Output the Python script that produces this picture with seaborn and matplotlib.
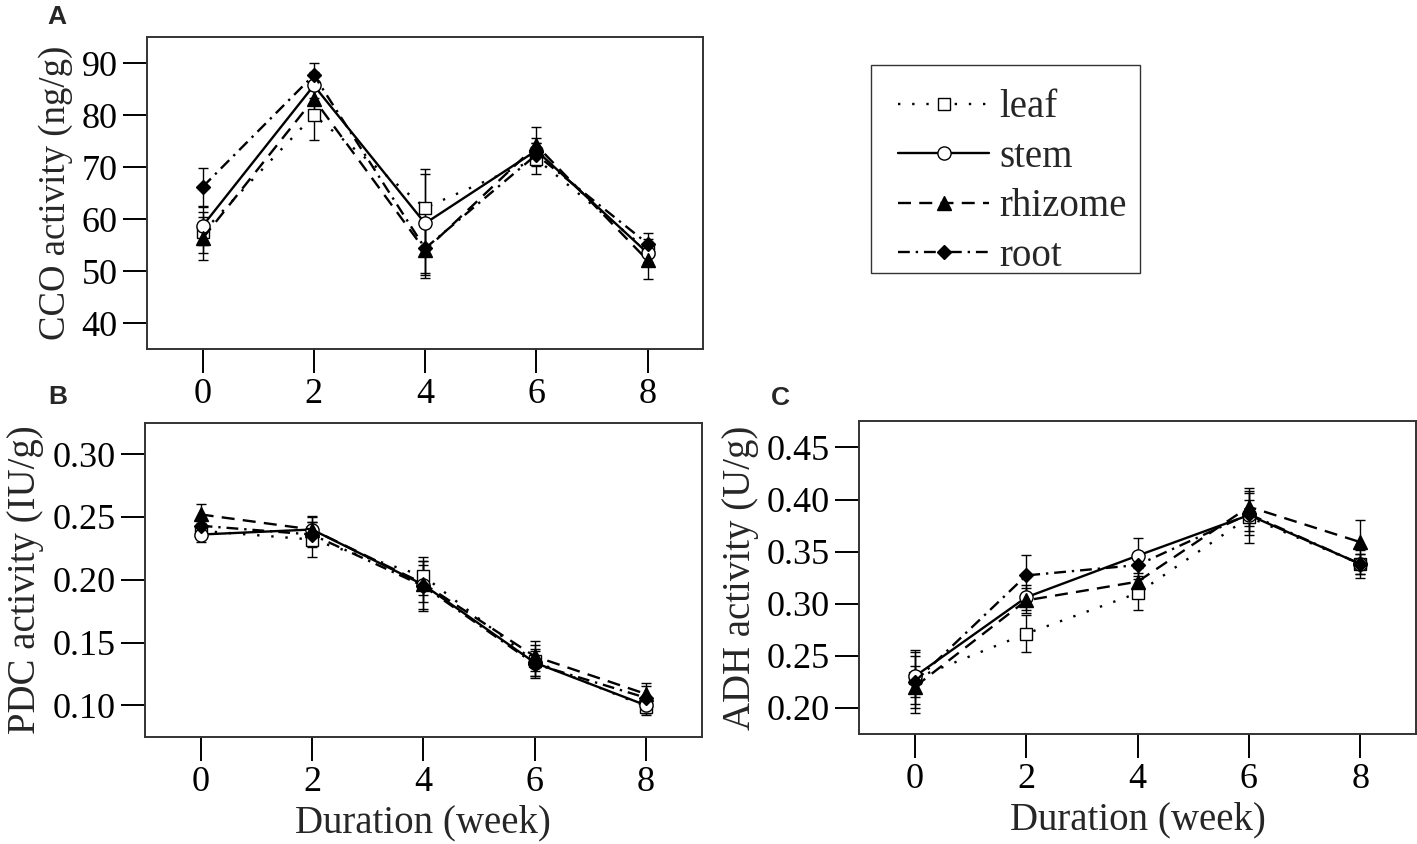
import numpy as np
import pandas as pd
import matplotlib
matplotlib.use('Agg')
import matplotlib.pyplot as plt
import seaborn as sns
from matplotlib.patches import Rectangle

sns.set_style("ticks")
plt.rcParams['font.family'] = ['Liberation Serif', 'DejaVu Serif']

weeks = [0, 2, 4, 6, 8]
tissues = ['leaf', 'stem', 'rhizome', 'root']

# --- CCO activity (ng/g) ---
cco_mean = {
    'leaf':    [57.5, 80.0, 62.2, 71.6, 54.0],
    'stem':    [58.7, 85.7, 59.2, 73.2, 53.5],
    'rhizome': [56.3, 83.1, 54.0, 74.2, 52.1],
    'root':    [66.2, 87.7, 54.4, 72.4, 55.3],
}
cco_err = {
    'leaf':    [3.9, 4.8, 7.4, 3.0, 2.2],
    'stem':    [3.7, 2.5, 9.5, 2.5, 2.0],
    'rhizome': [4.2, 3.0, 5.2, 3.5, 3.6],
    'root':    [3.6, 2.4, 5.1, 2.2, 2.1],
}

# --- PDC activity (IU/g) ---
pdc_mean = {
    'leaf':    [0.239, 0.232, 0.203, 0.135, 0.099],
    'stem':    [0.236, 0.240, 0.196, 0.134, 0.100],
    'rhizome': [0.252, 0.240, 0.197, 0.139, 0.109],
    'root':    [0.243, 0.236, 0.195, 0.133, 0.106],
}
pdc_err = {
    'leaf':    [0.006, 0.014, 0.015, 0.013, 0.007],
    'stem':    [0.006, 0.010, 0.019, 0.011, 0.006],
    'rhizome': [0.008, 0.011, 0.015, 0.012, 0.006],
    'root':    [0.006, 0.010, 0.020, 0.010, 0.012],
}

# --- ADH activity (U/g) ---
adh_mean = {
    'leaf':    [0.228, 0.271, 0.310, 0.383, 0.338],
    'stem':    [0.230, 0.306, 0.346, 0.385, 0.338],
    'rhizome': [0.220, 0.303, 0.321, 0.393, 0.359],
    'root':    [0.225, 0.327, 0.337, 0.386, 0.338],
}
adh_err = {
    'leaf':    [0.025, 0.018, 0.016, 0.025, 0.010],
    'stem':    [0.020, 0.012, 0.017, 0.015, 0.010],
    'rhizome': [0.020, 0.012, 0.013, 0.018, 0.021],
    'root':    [0.030, 0.020, 0.013, 0.020, 0.013],
}

styles = {
    'leaf':    dict(marker='s', ms=8, mfc='white', ls=(0, (1, 5))),
    'stem':    dict(marker='o', ms=9.5, mfc='white', ls='-'),
    'rhizome': dict(marker='^', ms=10.5, mfc='black', ls=(0, (5.5, 3.5))),
    'root':    dict(marker='D', ms=7.5, mfc='black', ls=(0, (5, 2.5, 1, 2.5))),
}

TICK_FS = 26
LABEL_FS = 28

fig = plt.figure(figsize=(14.17, 8.44), dpi=100)
axA = fig.add_axes([0.1037, 0.5861, 0.3926, 0.3700])
axB = fig.add_axes([0.1023, 0.1271, 0.3929, 0.3720])
axC = fig.add_axes([0.6064, 0.1309, 0.3929, 0.3697])


def draw_panel(ax, means, errs, ylim, yticks, fmt, ylabel, xlabel, ylabel_fs=LABEL_FS):
    for t in tissues:
        st = styles[t]
        ax.errorbar(weeks, means[t], yerr=errs[t], fmt='none', ecolor='black',
                    elinewidth=1.0, capsize=3.8, capthick=1.0, zorder=2)
        sns.lineplot(x=weeks, y=means[t], ax=ax, color='black', lw=1.7,
                     linestyle=st['ls'], marker=st['marker'], markersize=st['ms'],
                     markerfacecolor=st['mfc'], markeredgecolor='black',
                     markeredgewidth=1.0, label=t, legend=False, zorder=3)
    ax.set_xlim(-1, 9)
    ax.set_ylim(*ylim)
    ax.set_xticks(weeks)
    ax.set_yticks(yticks)
    ax.set_yticklabels([fmt.format(v) for v in yticks])
    ax.tick_params(axis='both', which='major', length=17, width=1.4,
                   labelsize=TICK_FS, pad=4, direction='out', colors='black')
    for sp in ax.spines.values():
        sp.set_linewidth(1.4)
        sp.set_color('#333333')
    ax.set_ylabel(ylabel, fontsize=ylabel_fs, labelpad=6)
    ax.set_xlabel(xlabel, fontsize=LABEL_FS, labelpad=4)


draw_panel(axA, cco_mean, cco_err, (35, 95), [40, 50, 60, 70, 80, 90], '{:.0f}',
           'CCO activity (ng/g)', '', ylabel_fs=26.5)
draw_panel(axB, pdc_mean, pdc_err, (0.075, 0.325), [0.10, 0.15, 0.20, 0.25, 0.30], '{:.2f}',
           'PDC activity (IU/g)', 'Duration (week)')
draw_panel(axC, adh_mean, adh_err, (0.175, 0.475), [0.20, 0.25, 0.30, 0.35, 0.40, 0.45], '{:.2f}',
           'ADH activity (U/g)', 'Duration (week)')

# legend built from panel A lines, frame drawn separately
handles = [l for l in axA.get_lines() if l.get_label() in tissues]
fig.legend(handles, tissues, loc='upper left',
           bbox_to_anchor=(879 / 1417, 1 - 70 / 844), borderaxespad=0,
           fontsize=LABEL_FS, frameon=False,
           handlelength=2.34, handletextpad=0.26, labelspacing=0.32,
           borderpad=0.5)
fig.patches.append(Rectangle((871 / 1417, 1 - 273 / 844), (1140 - 871) / 1417, (273 - 65) / 844,
                             transform=fig.transFigure, fill=False,
                             edgecolor='#333333', linewidth=1.0))

for lbl, x, y in [('A', 57, 17), ('B', 58, 397), ('C', 780, 398)]:
    fig.text(x / 1417, 1 - y / 844, lbl, fontsize=19, fontweight='bold',
             family='Liberation Sans', ha='center', va='center')

fig.savefig('out.png', dpi=100)
